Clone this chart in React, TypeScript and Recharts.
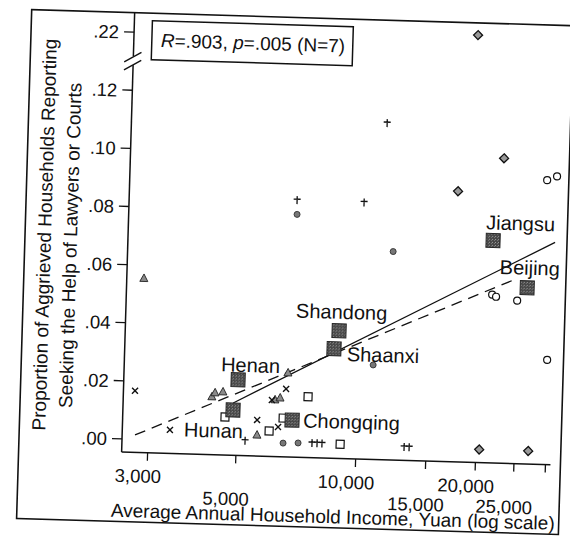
import React from "react";
import { ComposedChart, XAxis, YAxis, Scatter, Line, ReferenceDot } from "recharts";

// provinces (N=7)
const provinceNames = ["Henan", "Hunan", "Chongqing", "Shandong", "Shaanxi", "Jiangsu", "Beijing"];
const provinceIncome = [5000, 4880, 6880, 8890, 8660, 21330, 26190];
const provinceShare = [0.0215, 0.0111, 0.0082, 0.0394, 0.0332, 0.072, 0.0561];

// county-level markers, grouped by symbol
const triangleIncome = [2850, 4310, 4385, 4590, 5630, 6210, 6395, 6665];
const triangleShare = [0.0554, 0.0154, 0.0168, 0.0172, 0.0027, 0.015, 0.0157, 0.0244];
const crossIncome = [2760, 3400, 5620, 6350, 6610, 6100];
const crossShare = [0.0167, 0.0036, 0.0079, 0.0057, 0.0189, 0.0149];
const plusIncome = [11330, 6820, 10050, 5260, 7750, 7980, 8210, 9120, 13210, 13600];
const plusShare = [0.1113, 0.0839, 0.0838, 0.0006, 0.0005, 0.0005, 0.0005, 0.0004, 0.0001, 0.0001];
const dotIncome = [6835, 11990, 10890, 6555, 7150];
const dotShare = [0.079, 0.0672, 0.028, 0.0002, 0.0004];
const ringIncome = [28860, 30540, 21410, 21910, 24770, 29760];
const ringShare = [0.0933, 0.0947, 0.0534, 0.0527, 0.0516, 0.0315];
const diamondIncome = [18880, 22410, 17270, 20400, 27090];
const diamondShare = [0.2225, 0.1004, 0.0886, 0, 0];
const boxIncome = [4665, 6035, 7515, 6530, 9120];
const boxShare = [0.0086, 0.0042, 0.0164, 0.0088, 0.0004];

// fitted lines
const fitIncome = [4880, 30540];
const fitShare = [0.0135, 0.072];
const allFitIncome = [2781, 24680];
const allFitShare = [0.0015, 0.0592];

const xTicks = [3000, 5000, 10000, 15000, 20000, 25000, 30000];
const xTickLabels = ["3,000", "5,000", "10,000", "15,000", "20,000", "25,000", ""];
const xLowerRow = [5000, 15000, 25000];
const yTicks = [0, 0.02, 0.04, 0.06, 0.08, 0.1, 0.12, 0.14];
const yTickLabels = [".00", ".02", ".04", ".06", ".08", ".10", ".12", ".22"];

// broken y axis: everything above .13 is pulled down by .08
const BREAK_AT = 0.13;
const BREAK_GAP = 0.08;
const squash = (v: number) => (v > BREAK_AT ? v - BREAK_GAP : v);

const pts = (xs: number[], ys: number[], names?: string[]) =>
  xs.map((x, i) => ({ x, y: squash(ys[i]), name: names ? names[i] : "" }));

const FONT = '"Liberation Sans", Arial, Helvetica, sans-serif';

const labelPos: Record<string, { dx: number; dy: number; anchor: string }> = {
  Henan: { dx: 12, dy: -8, anchor: "middle" },
  Hunan: { dx: -19, dy: 28, anchor: "middle" },
  Chongqing: { dx: 11, dy: 7, anchor: "start" },
  Shandong: { dx: 2, dy: -12, anchor: "middle" },
  Shaanxi: { dx: 13, dy: 12, anchor: "start" },
  Jiangsu: { dx: 27, dy: -11, anchor: "middle" },
  Beijing: { dx: 2, dy: -13, anchor: "middle" },
};

const Province = (p: any) => {
  const { cx, cy, payload } = p;
  if (cx == null || cy == null) return <g />;
  const o = labelPos[payload.name];
  return (
    <g>
      <rect x={cx - 7} y={cy - 7} width={14} height={14} fill="url(#stipple)" stroke="#262626" strokeWidth={1} />
      <text x={cx + o.dx} y={cy + o.dy} textAnchor={o.anchor as any} fontSize={20} fontFamily={FONT} fill="#111">
        {payload.name}
      </text>
    </g>
  );
};

const marker = (kind: string) => (p: any) => {
  const { cx, cy } = p;
  if (cx == null || cy == null) return <g />;
  switch (kind) {
    case "triangle":
      return <path d={`M${cx},${cy - 4.5} L${cx + 4},${cy + 3} L${cx - 4},${cy + 3} Z`} fill="#8a8a8a" stroke="#222" strokeWidth={0.9} />;
    case "cross":
      return (
        <path d={`M${cx - 3},${cy - 3} L${cx + 3},${cy + 3} M${cx + 3},${cy - 3} L${cx - 3},${cy + 3}`} stroke="#111" strokeWidth={1.4} />
      );
    case "plus":
      return <path d={`M${cx},${cy - 4} L${cx},${cy + 4} M${cx - 3.5},${cy - 1} L${cx + 3.5},${cy - 1}`} stroke="#111" strokeWidth={1.3} />;
    case "dot":
      return <circle cx={cx} cy={cy} r={3} fill="#777" stroke="#333" strokeWidth={0.9} />;
    case "ring":
      return <circle cx={cx} cy={cy} r={3.5} fill="#fff" stroke="#111" strokeWidth={1.2} />;
    case "diamond":
      return <path d={`M${cx},${cy - 4.5} L${cx + 4.5},${cy} L${cx},${cy + 4.5} L${cx - 4.5},${cy} Z`} fill="#999" stroke="#111" strokeWidth={1.3} />;
    default:
      return <rect x={cx - 4} y={cy - 4} width={8} height={8} fill="#fff" stroke="#111" strokeWidth={1.2} />;
  }
};

const XTick = (p: any) => {
  const v = p.payload.value;
  const label = xTickLabels[xTicks.indexOf(v)];
  if (!label) return <g />;
  const lower = xLowerRow.includes(v);
  return (
    <text x={p.x - 9} y={p.y + (lower ? 40 : 20)} textAnchor="middle" fontSize={18.5} fontFamily={FONT} fill="#111">
      {label}
    </text>
  );
};

const YTick = (p: any) => {
  const v = p.payload.value;
  const i = yTicks.findIndex((t) => Math.abs(t - v) < 1e-9);
  return (
    <text x={p.x} y={p.y} dy="0.36em" textAnchor="end" fontSize={18.5} fontFamily={FONT} fill="#111">
      {yTickLabels[i]}
    </text>
  );
};

const AxisBreak = (p: any) => {
  const { cx, cy } = p;
  return (
    <g>
      <rect x={cx - 3} y={cy - 5} width={6} height={9} fill="#fff" />
      <line x1={cx - 9} y1={cy + 1} x2={cx + 8} y2={cy - 9} stroke="#111" strokeWidth={1.4} />
      <line x1={cx - 9} y1={cy + 9} x2={cx + 8} y2={cy - 1} stroke="#111" strokeWidth={1.4} />
    </g>
  );
};

export default function App() {
  return (
    <div style={{ width: 570, height: 537, overflow: "hidden", background: "#fff" }}>
      <style>{"body{margin:0;background:#fff}"}</style>
      <div
        style={{
          position: "relative",
          width: 570,
          height: 537,
          transform: "rotate(1.7deg)",
          transformOrigin: "122px 439px",
        }}
      >
        <ComposedChart width={570} height={537} margin={{ top: 12.5, right: 19, bottom: 55, left: 60 }}>
          <XAxis
            type="number"
            dataKey="x"
            scale="log"
            domain={[2581, 30880]}
            ticks={xTicks}
            interval={0}
            tick={<XTick />}
            tickSize={8}
            tickMargin={2}
            height={30}
            axisLine={{ stroke: "#111", strokeWidth: 1.5 }}
            tickLine={{ stroke: "#111", strokeWidth: 1.3 }}
          />
          <YAxis
            type="number"
            dataKey="y"
            domain={[-0.0045, 0.1467]}
            ticks={yTicks}
            interval={0}
            tick={<YTick />}
            tickSize={10}
            tickMargin={5}
            width={62}
            axisLine={{ stroke: "#111", strokeWidth: 1.5 }}
            tickLine={{ stroke: "#111", strokeWidth: 1.3 }}
          />
          <Line
            data={pts(allFitIncome, allFitShare)}
            dataKey="y"
            type="linear"
            stroke="#111"
            strokeWidth={1.3}
            strokeDasharray="11 7"
            dot={false}
            isAnimationActive={false}
          />
          <Line
            data={pts(fitIncome, fitShare)}
            dataKey="y"
            type="linear"
            stroke="#111"
            strokeWidth={1.3}
            dot={false}
            isAnimationActive={false}
          />
          <Scatter data={pts(triangleIncome, triangleShare)} shape={marker("triangle")} isAnimationActive={false} />
          <Scatter data={pts(crossIncome, crossShare)} shape={marker("cross")} isAnimationActive={false} />
          <Scatter data={pts(plusIncome, plusShare)} shape={marker("plus")} isAnimationActive={false} />
          <Scatter data={pts(dotIncome, dotShare)} shape={marker("dot")} isAnimationActive={false} />
          <Scatter data={pts(ringIncome, ringShare)} shape={marker("ring")} isAnimationActive={false} />
          <Scatter data={pts(diamondIncome, diamondShare)} shape={marker("diamond")} isAnimationActive={false} />
          <Scatter data={pts(boxIncome, boxShare)} shape={marker("box")} isAnimationActive={false} />
          <Scatter data={pts(provinceIncome, provinceShare, provinceNames)} shape={Province} isAnimationActive={false} />
          <ReferenceDot x={2581} y={BREAK_AT} ifOverflow="visible" shape={AxisBreak} />
        </ComposedChart>
        <svg width={570} height={537} style={{ position: "absolute", left: 0, top: 0, pointerEvents: "none" }}>
          <defs>
            <pattern id="stipple" width={3} height={3} patternUnits="userSpaceOnUse">
              <rect width={3} height={3} fill="#474747" />
              <rect x={0} y={0} width={1} height={1} fill="#9a9a9a" />
              <rect x={2} y={1} width={1} height={1} fill="#7a7a7a" />
            </pattern>
          </defs>
          <rect x={19} y={12.5} width={542} height={509} fill="none" stroke="#111" strokeWidth={1.6} />
          <rect x={140} y={20} width={201} height={39} fill="#fff" stroke="#111" strokeWidth={1.5} />
          <text x={149} y={46} fontSize={19} fontFamily={FONT} fill="#111">
            <tspan fontStyle="italic">R</tspan>=.903, <tspan fontStyle="italic">p</tspan>=.005 (N=7)
          </text>
          <g fontSize={19} fontFamily={FONT} fill="#111" textAnchor="middle">
            <text transform="translate(45 237) rotate(-90)">Proportion of Aggrieved Households Reporting</text>
            <text transform="translate(71 247) rotate(-90)">Seeking the Help of Lawyers or Courts</text>
            <text x={335} y={517}>Average Annual Household Income, Yuan (log scale)</text>
          </g>
        </svg>
      </div>
    </div>
  );
}
